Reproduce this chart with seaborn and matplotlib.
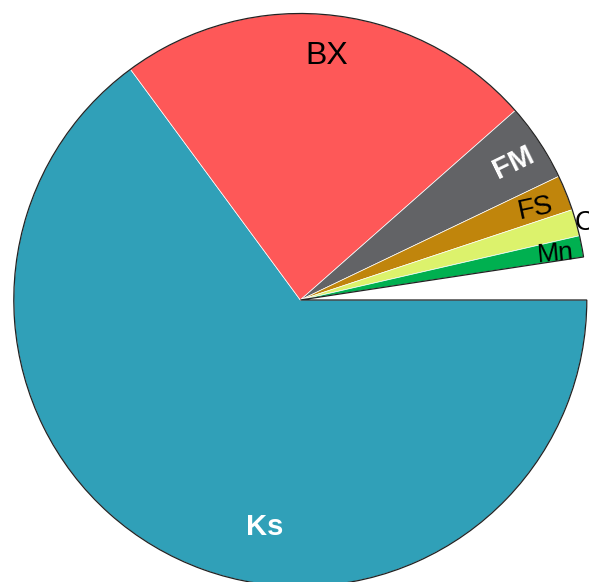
import numpy as np
import seaborn as sns
from matplotlib import pyplot as plt
from matplotlib.patches import Wedge

# slice data (percent of the whole; they do not add up to 100, the rest is left empty)
labels = ["Ks", "BX", "FM", "FS", "C", "Mn"]
values = [64.9, 23.6, 4.4, 2.0, 1.5, 1.2]
colors = ["#30a0b8", "#fe5858", "#626366", "#c0850c", "#dcf26c", "#00b050"]

# label styling
label_colors = ["white", "black", "white", "black", "black", "black"]
label_weights = ["bold", "normal", "bold", "normal", "normal", "normal"]
label_sizes = [21, 23, 21, 20, 20, 19]
label_rotation = [0, 0, 26, 12, 0, 5]
label_radius = [0.79, 0.868, 0.885, 0.885, 1.03, 0.905]
label_angle = [261.0, None, None, None, None, None]

sns.set_style("white")
plt.rcParams["font.family"] = ["Liberation Sans", "DejaVu Sans"]

fig = plt.figure(figsize=(5.89, 5.82), dpi=100)
ax = fig.add_axes([0, 0, 1, 1])

fractions = np.array(values) / 100.0
wedges, _ = ax.pie(
    fractions,
    colors=colors,
    startangle=0,
    counterclock=False,
    normalize=False,
    radius=1,
    wedgeprops=dict(edgecolor="white", linewidth=0.5),
)

# dark outline around the filled part of the pie
gap = 360 * (1 - fractions.sum())
ax.add_patch(Wedge((0, 0), 1, gap, 360, fill=False, edgecolor="#222222", linewidth=0.9))

for i, w in enumerate(wedges):
    mid = (w.theta1 + w.theta2) / 2
    ang = label_angle[i] if label_angle[i] is not None else mid
    r = label_radius[i]
    x = r * np.cos(np.radians(ang))
    y = r * np.sin(np.radians(ang))
    ax.text(x, y, labels[i], ha="center", va="center_baseline", color=label_colors[i],
            fontsize=label_sizes[i], fontweight=label_weights[i],
            rotation=label_rotation[i], rotation_mode="anchor")

ax.set_xlim(-1.0482, 1.0077)
ax.set_ylim(-0.9843, 1.0471)
ax.set_aspect("auto")
ax.axis("off")

fig.savefig("out.png", dpi=100)
